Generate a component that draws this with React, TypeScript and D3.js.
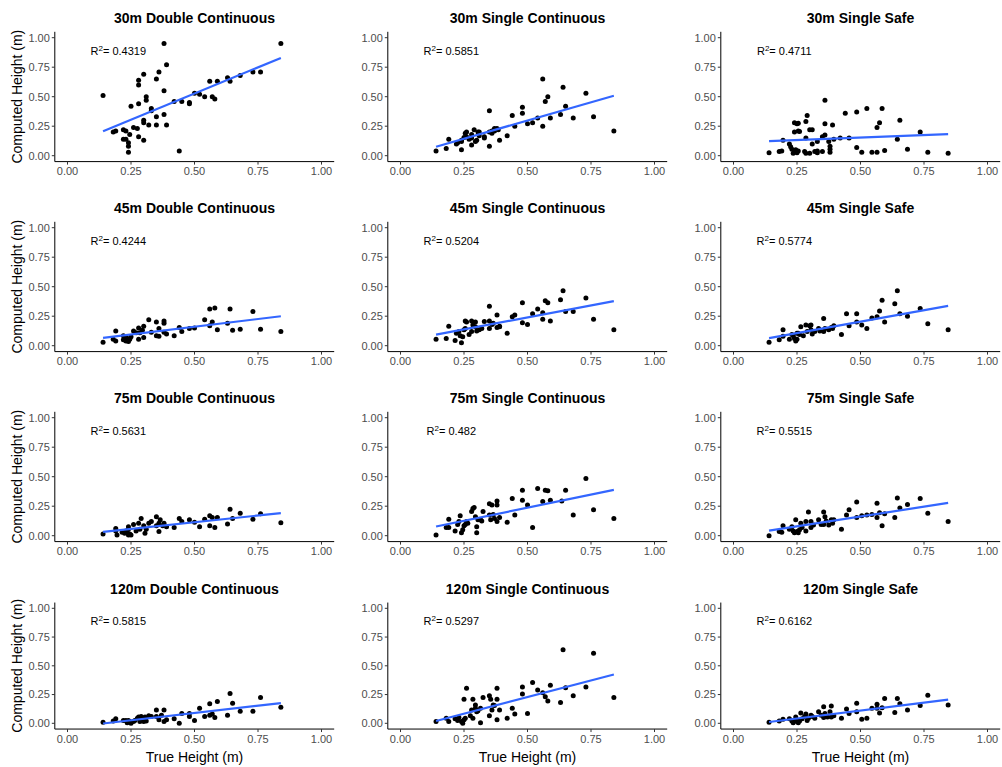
import * as d3 from "d3";

const WIDTH = 1002;
const HEIGHT = 767;
const FONT = "'Liberation Sans', Arial, Helvetica, sans-serif";

const ALTITUDES = ["30m", "45m", "75m", "120m"];
const METHODS = ["Double Continuous", "Single Continuous", "Single Safe"];
const R2_LABELS = [
  ["0.4319", "0.5851", "0.4711"],
  ["0.4244", "0.5204", "0.5774"],
  ["0.5631", "0.482", "0.5515"],
  ["0.5815", "0.5297", "0.6162"],
];
const TICKS = [0, 0.25, 0.5, 0.75, 1];

// [true height, computed height] per panel
type Pt = [number, number];

const P30_DOUBLE: Pt[] = [
  [0.14, 0.51], [0.18, 0.2], [0.19, 0.21], [0.22, 0.22], [0.22, 0.14], [0.23, 0.21], [0.23, 0.14],
  [0.24, 0.11], [0.24, 0.08], [0.24, 0.03], [0.245, 0.18], [0.25, 0.42], [0.26, 0.24], [0.275, 0.23],
  [0.28, 0.64], [0.28, 0.6], [0.28, 0.44], [0.28, 0.16], [0.3, 0.69], [0.3, 0.3], [0.3, 0.28],
  [0.3, 0.13], [0.31, 0.5], [0.31, 0.47], [0.32, 0.26], [0.33, 0.4], [0.33, 0.38], [0.35, 0.65],
  [0.35, 0.33], [0.35, 0.26], [0.36, 0.71], [0.38, 0.95], [0.38, 0.55], [0.38, 0.35], [0.39, 0.77],
  [0.39, 0.26], [0.42, 0.46], [0.44, 0.04], [0.45, 0.46], [0.48, 0.45], [0.48, 0.44], [0.5, 0.53],
  [0.52, 0.52], [0.54, 0.5], [0.56, 0.63], [0.57, 0.5], [0.58, 0.48], [0.59, 0.63], [0.63, 0.66],
  [0.64, 0.63], [0.68, 0.68], [0.73, 0.71], [0.76, 0.71], [0.84, 0.95],
];

const P30_SINGLE: Pt[] = [
  [0.14, 0.04], [0.18, 0.06], [0.19, 0.14], [0.22, 0.1], [0.225, 0.11], [0.24, 0.05], [0.24, 0.13],
  [0.24, 0.12], [0.25, 0.155], [0.255, 0.19], [0.26, 0.2], [0.26, 0.16], [0.27, 0.14], [0.28, 0.09],
  [0.28, 0.15], [0.28, 0.18], [0.29, 0.22], [0.295, 0.12], [0.3, 0.13], [0.305, 0.2], [0.31, 0.2],
  [0.31, 0.17], [0.33, 0.15], [0.33, 0.16], [0.35, 0.38], [0.35, 0.08], [0.35, 0.2], [0.36, 0.21],
  [0.36, 0.19], [0.37, 0.23], [0.37, 0.21], [0.38, 0.23], [0.385, 0.22], [0.39, 0.13], [0.42, 0.17],
  [0.44, 0.34], [0.45, 0.25], [0.48, 0.36], [0.48, 0.41], [0.5, 0.27], [0.52, 0.28], [0.54, 0.32],
  [0.56, 0.25], [0.56, 0.65], [0.57, 0.46], [0.58, 0.5], [0.59, 0.32], [0.63, 0.35], [0.64, 0.58],
  [0.65, 0.42], [0.68, 0.32], [0.73, 0.53], [0.76, 0.33], [0.84, 0.21],
];

const P30_SAFE: Pt[] = [
  [0.14, 0.025], [0.18, 0.035], [0.19, 0.04], [0.195, 0.13], [0.22, 0.1], [0.225, 0.075], [0.23, 0.055],
  [0.235, 0.02], [0.24, 0.035], [0.24, 0.28], [0.24, 0.2], [0.245, 0.05], [0.25, 0.025], [0.25, 0.27],
  [0.255, 0.04], [0.255, 0.275], [0.255, 0.21], [0.26, 0.205], [0.28, 0.035], [0.285, 0.02],
  [0.285, 0.29], [0.285, 0.15], [0.29, 0.34], [0.3, 0.22], [0.3, 0.02], [0.31, 0.22], [0.31, 0.1],
  [0.32, 0.035], [0.33, 0.04], [0.33, 0.025], [0.33, 0.12], [0.35, 0.035], [0.35, 0.16], [0.36, 0.175],
  [0.36, 0.47], [0.36, 0.27], [0.375, 0.12], [0.38, 0.08], [0.38, 0.055], [0.38, 0.03], [0.39, 0.26],
  [0.395, 0.14], [0.42, 0.15], [0.44, 0.36], [0.455, 0.15], [0.485, 0.37], [0.485, 0.07], [0.505, 0.03],
  [0.525, 0.4], [0.545, 0.03], [0.565, 0.03], [0.565, 0.24], [0.575, 0.28], [0.585, 0.4], [0.595, 0.045],
  [0.645, 0.14], [0.655, 0.3], [0.685, 0.055], [0.735, 0.2], [0.765, 0.03], [0.845, 0.02],
];

const P45_DOUBLE: Pt[] = [
  [0.14, 0.03], [0.18, 0.055], [0.19, 0.04], [0.19, 0.125], [0.22, 0.05], [0.22, 0.085], [0.23, 0.04],
  [0.23, 0.07], [0.235, 0.06], [0.24, 0.035], [0.245, 0.055], [0.25, 0.075], [0.26, 0.125], [0.27, 0.11],
  [0.28, 0.15], [0.28, 0.055], [0.285, 0.11], [0.295, 0.13], [0.3, 0.165], [0.3, 0.07], [0.32, 0.22],
  [0.33, 0.115], [0.35, 0.2], [0.35, 0.085], [0.36, 0.145], [0.36, 0.08], [0.38, 0.21], [0.38, 0.19],
  [0.38, 0.115], [0.39, 0.1], [0.42, 0.085], [0.44, 0.155], [0.45, 0.12], [0.48, 0.145], [0.5, 0.15],
  [0.54, 0.22], [0.56, 0.31], [0.56, 0.17], [0.57, 0.2], [0.58, 0.32], [0.59, 0.135], [0.63, 0.19],
  [0.64, 0.31], [0.65, 0.13], [0.68, 0.14], [0.73, 0.29], [0.76, 0.14], [0.84, 0.12],
];

const P45_SINGLE: Pt[] = [
  [0.14, 0.055], [0.18, 0.06], [0.19, 0.165], [0.215, 0.045], [0.22, 0.105], [0.23, 0.12], [0.235, 0.085],
  [0.24, 0.025], [0.245, 0.075], [0.25, 0.135], [0.255, 0.145], [0.255, 0.21], [0.26, 0.2], [0.27, 0.095],
  [0.28, 0.12], [0.28, 0.21], [0.285, 0.175], [0.295, 0.16], [0.295, 0.2], [0.3, 0.125], [0.31, 0.135],
  [0.32, 0.145], [0.33, 0.205], [0.35, 0.335], [0.35, 0.21], [0.35, 0.145], [0.36, 0.18], [0.365, 0.19],
  [0.38, 0.26], [0.38, 0.155], [0.39, 0.165], [0.39, 0.16], [0.42, 0.105], [0.44, 0.245], [0.45, 0.26],
  [0.48, 0.365], [0.48, 0.195], [0.5, 0.18], [0.52, 0.27], [0.54, 0.31], [0.56, 0.28], [0.56, 0.225],
  [0.57, 0.38], [0.58, 0.365], [0.59, 0.21], [0.63, 0.39], [0.64, 0.465], [0.65, 0.29], [0.68, 0.29],
  [0.73, 0.405], [0.76, 0.225], [0.84, 0.135],
];

const P45_SAFE: Pt[] = [
  [0.14, 0.03], [0.18, 0.05], [0.195, 0.08], [0.195, 0.135], [0.22, 0.055], [0.23, 0.095], [0.235, 0.085],
  [0.24, 0.06], [0.245, 0.04], [0.25, 0.055], [0.25, 0.105], [0.255, 0.105], [0.26, 0.095], [0.265, 0.16],
  [0.275, 0.085], [0.285, 0.175], [0.29, 0.12], [0.3, 0.17], [0.305, 0.135], [0.305, 0.175], [0.31, 0.1],
  [0.32, 0.12], [0.335, 0.145], [0.34, 0.125], [0.355, 0.23], [0.355, 0.12], [0.36, 0.145], [0.375, 0.135],
  [0.385, 0.155], [0.39, 0.145], [0.395, 0.17], [0.425, 0.095], [0.445, 0.27], [0.455, 0.17], [0.485, 0.2],
  [0.485, 0.27], [0.505, 0.175], [0.525, 0.145], [0.545, 0.235], [0.565, 0.245], [0.575, 0.295],
  [0.585, 0.385], [0.595, 0.2], [0.635, 0.355], [0.645, 0.465], [0.655, 0.27], [0.685, 0.25],
  [0.735, 0.315], [0.765, 0.185], [0.845, 0.135],
];

const P75_DOUBLE: Pt[] = [
  [0.14, 0.015], [0.19, 0.04], [0.19, 0.06], [0.195, 0.005], [0.215, 0.03], [0.225, 0.02], [0.23, 0.04],
  [0.235, 0.03], [0.24, 0.055], [0.24, 0.005], [0.245, 0.015], [0.25, 0.005], [0.24, 0.075], [0.26, 0.095],
  [0.27, 0.04], [0.28, 0.105], [0.285, 0.055], [0.29, 0.145], [0.3, 0.085], [0.305, 0.02], [0.31, 0.055],
  [0.32, 0.105], [0.33, 0.12], [0.35, 0.16], [0.35, 0.085], [0.36, 0.105], [0.36, 0.035], [0.365, 0.135],
  [0.375, 0.085], [0.38, 0.105], [0.39, 0.075], [0.42, 0.07], [0.44, 0.145], [0.45, 0.12], [0.48, 0.135],
  [0.5, 0.115], [0.52, 0.075], [0.54, 0.14], [0.56, 0.17], [0.56, 0.085], [0.57, 0.155], [0.58, 0.07],
  [0.59, 0.155], [0.63, 0.1], [0.64, 0.225], [0.65, 0.145], [0.68, 0.19], [0.73, 0.14], [0.76, 0.185],
  [0.84, 0.11],
];

const P75_SINGLE: Pt[] = [
  [0.14, 0.005], [0.18, 0.07], [0.19, 0.07], [0.19, 0.14], [0.215, 0.04], [0.225, 0.095], [0.23, 0.12],
  [0.235, 0.17], [0.24, 0.025], [0.245, 0.05], [0.25, 0.085], [0.255, 0.095], [0.26, 0.12], [0.265, 0.105],
  [0.28, 0.205], [0.285, 0.23], [0.29, 0.24], [0.295, 0.16], [0.3, 0.075], [0.3, 0.025], [0.305, 0.135],
  [0.315, 0.135], [0.32, 0.125], [0.325, 0.205], [0.35, 0.27], [0.36, 0.26], [0.35, 0.175], [0.355, 0.135],
  [0.365, 0.18], [0.37, 0.145], [0.38, 0.295], [0.38, 0.26], [0.38, 0.12], [0.39, 0.155], [0.42, 0.115],
  [0.44, 0.315], [0.45, 0.175], [0.48, 0.385], [0.48, 0.3], [0.5, 0.26], [0.52, 0.07], [0.54, 0.4],
  [0.56, 0.29], [0.57, 0.385], [0.58, 0.38], [0.59, 0.3], [0.635, 0.295], [0.65, 0.385], [0.68, 0.175],
  [0.73, 0.485], [0.76, 0.22], [0.84, 0.145],
];

const P75_SAFE: Pt[] = [
  [0.14, 0.0], [0.18, 0.035], [0.19, 0.03], [0.195, 0.085], [0.22, 0.055], [0.23, 0.075], [0.235, 0.04],
  [0.24, 0.025], [0.245, 0.135], [0.25, 0.035], [0.255, 0.025], [0.26, 0.05], [0.265, 0.105], [0.27, 0.07],
  [0.285, 0.12], [0.285, 0.04], [0.295, 0.2], [0.305, 0.12], [0.305, 0.07], [0.315, 0.09], [0.335, 0.135],
  [0.345, 0.095], [0.355, 0.2], [0.355, 0.095], [0.36, 0.16], [0.365, 0.125], [0.375, 0.09], [0.385, 0.135],
  [0.39, 0.105], [0.395, 0.135], [0.425, 0.055], [0.445, 0.175], [0.455, 0.22], [0.485, 0.285],
  [0.485, 0.155], [0.505, 0.17], [0.525, 0.175], [0.545, 0.18], [0.565, 0.275], [0.565, 0.155],
  [0.575, 0.195], [0.585, 0.085], [0.595, 0.185], [0.635, 0.155], [0.645, 0.32], [0.655, 0.235],
  [0.685, 0.265], [0.735, 0.315], [0.765, 0.19], [0.845, 0.12],
];

const P120_DOUBLE: Pt[] = [
  [0.14, 0.01], [0.18, 0.02], [0.19, 0.04], [0.22, 0.025], [0.23, 0.025], [0.235, 0.005], [0.24, 0.025],
  [0.245, 0.015], [0.25, 0.0], [0.26, 0.015], [0.265, 0.025], [0.275, 0.045], [0.28, 0.055], [0.285, 0.015],
  [0.29, 0.06], [0.3, 0.015], [0.305, 0.055], [0.31, 0.02], [0.32, 0.065], [0.33, 0.06], [0.35, 0.115],
  [0.35, 0.06], [0.36, 0.03], [0.37, 0.07], [0.38, 0.115], [0.38, 0.015], [0.39, 0.03], [0.42, 0.04],
  [0.44, 0.0], [0.45, 0.085], [0.48, 0.085], [0.48, 0.06], [0.5, 0.025], [0.52, 0.13], [0.54, 0.06],
  [0.56, 0.17], [0.56, 0.07], [0.57, 0.08], [0.58, 0.05], [0.59, 0.19], [0.63, 0.07], [0.64, 0.26],
  [0.65, 0.175], [0.68, 0.105], [0.73, 0.105], [0.76, 0.225], [0.84, 0.14],
];

const P120_SINGLE: Pt[] = [
  [0.14, 0.015], [0.18, 0.045], [0.19, 0.015], [0.215, 0.04], [0.225, 0.025], [0.23, 0.05], [0.24, 0.015],
  [0.245, 0.0], [0.25, 0.03], [0.25, 0.21], [0.255, 0.045], [0.26, 0.305], [0.275, 0.065], [0.28, 0.115],
  [0.285, 0.045], [0.285, 0.21], [0.295, 0.16], [0.295, 0.13], [0.3, 0.1], [0.305, 0.11], [0.315, 0.005],
  [0.315, 0.13], [0.325, 0.225], [0.35, 0.24], [0.35, 0.065], [0.355, 0.21], [0.36, 0.115], [0.365, 0.16],
  [0.37, 0.155], [0.38, 0.305], [0.38, 0.21], [0.38, 0.03], [0.39, 0.115], [0.42, 0.045], [0.44, 0.13],
  [0.45, 0.08], [0.48, 0.315], [0.48, 0.255], [0.5, 0.085], [0.52, 0.355], [0.54, 0.29], [0.56, 0.265],
  [0.57, 0.23], [0.58, 0.195], [0.59, 0.33], [0.63, 0.18], [0.64, 0.64], [0.65, 0.31], [0.68, 0.24],
  [0.73, 0.315], [0.76, 0.61], [0.84, 0.225],
];

const P120_SAFE: Pt[] = [
  [0.14, 0.01], [0.18, 0.02], [0.195, 0.035], [0.22, 0.04], [0.23, 0.02], [0.235, 0.005], [0.24, 0.025],
  [0.245, 0.055], [0.25, 0.015], [0.255, 0.005], [0.26, 0.02], [0.265, 0.09], [0.27, 0.04], [0.28, 0.06],
  [0.285, 0.08], [0.29, 0.025], [0.295, 0.045], [0.305, 0.07], [0.31, 0.06], [0.32, 0.045], [0.335, 0.1],
  [0.345, 0.07], [0.355, 0.145], [0.355, 0.05], [0.36, 0.085], [0.37, 0.055], [0.38, 0.1], [0.385, 0.15],
  [0.385, 0.055], [0.395, 0.065], [0.425, 0.045], [0.445, 0.125], [0.455, 0.085], [0.485, 0.175],
  [0.485, 0.1], [0.505, 0.035], [0.525, 0.045], [0.545, 0.13], [0.565, 0.165], [0.565, 0.13],
  [0.575, 0.09], [0.585, 0.135], [0.595, 0.215], [0.635, 0.095], [0.645, 0.215], [0.655, 0.17],
  [0.685, 0.115], [0.735, 0.155], [0.765, 0.245], [0.845, 0.16],
];

const PANEL_DATA: Pt[][][] = [
  [P30_DOUBLE, P30_SINGLE, P30_SAFE],
  [P45_DOUBLE, P45_SINGLE, P45_SAFE],
  [P75_DOUBLE, P75_SINGLE, P75_SAFE],
  [P120_DOUBLE, P120_SINGLE, P120_SAFE],
];

// layout (pixel positions of 0 and 1 on each axis)
const COL_X0 = [67.5, 400.5, 733.5];
const UNIT_W = 254;
const ROW_Y0 = [155.7, 345.7, 535.7, 723.3];
const ROW_UNIT_H = [118, 118, 118, 115];

function linearFit(pts: Pt[]) {
  const mx = d3.mean(pts, (d) => d[0]) as number;
  const my = d3.mean(pts, (d) => d[1]) as number;
  let sxy = 0;
  let sxx = 0;
  pts.forEach(([x, y]) => {
    sxy += (x - mx) * (y - my);
    sxx += (x - mx) * (x - mx);
  });
  const slope = sxy / sxx;
  return { slope, intercept: my - slope * mx };
}

function Panel({ row, col }: { row: number; col: number }) {
  const pts = PANEL_DATA[row][col];
  const x = d3
    .scaleLinear()
    .domain([-0.05, 1.05])
    .range([COL_X0[col] - 0.05 * UNIT_W, COL_X0[col] + 1.05 * UNIT_W]);
  const h = ROW_UNIT_H[row];
  const y = d3
    .scaleLinear()
    .domain([-0.05, 1.05])
    .range([ROW_Y0[row] + 0.05 * h, ROW_Y0[row] - 1.05 * h]);

  const [xMin, xMax] = d3.extent(pts, (d) => d[0]) as [number, number];
  const fit = linearFit(pts);
  const fitLine = d3
    .line<number>()
    .x((d) => x(d))
    .y((d) => y(fit.intercept + fit.slope * d));

  const left = x(-0.05);
  const right = x(1.05);
  const bottom = y(-0.05);
  const top = y(1.05);
  const mid = (left + right) / 2;

  return (
    <g>
      <text
        x={mid}
        y={top - 9}
        textAnchor="middle"
        fontSize={14}
        fontWeight="bold"
        fill="#000"
      >
        {ALTITUDES[row]} {METHODS[col]}
      </text>

      {pts.map((d, i) => (
        <circle key={i} cx={x(d[0])} cy={y(d[1])} r={2.5} fill="#000" />
      ))}

      <path
        d={fitLine([xMin, xMax]) || ""}
        fill="none"
        stroke="#3366FF"
        strokeWidth={2.2}
      />

      <text x={x(0.2)} y={y(0.885)} dy="0.35em" textAnchor="middle" fontSize={11} fill="#000">
        R<tspan dy="-4" fontSize={8}>2</tspan>
        <tspan dy="4">= {R2_LABELS[row][col]}</tspan>
      </text>

      {/* axes */}
      <line x1={left} x2={right} y1={bottom} y2={bottom} stroke="#000" strokeWidth={1} />
      <line x1={left} x2={left} y1={bottom} y2={top} stroke="#000" strokeWidth={1} />
      {TICKS.map((t) => (
        <g key={`x${t}`}>
          <line x1={x(t)} x2={x(t)} y1={bottom} y2={bottom + 3} stroke="#333" />
          <text x={x(t)} y={bottom + 13.5} textAnchor="middle" fontSize={11} fill="#4d4d4d">
            {d3.format(".2f")(t)}
          </text>
        </g>
      ))}
      {TICKS.map((t) => (
        <g key={`y${t}`}>
          <line x1={left - 3} x2={left} y1={y(t)} y2={y(t)} stroke="#333" />
          <text x={left - 5} y={y(t)} dy="0.35em" textAnchor="end" fontSize={11} fill="#4d4d4d">
            {d3.format(".2f")(t)}
          </text>
        </g>
      ))}

      {col === 0 && (
        <text
          transform={`translate(22,${(top + bottom) / 2}) rotate(-90)`}
          textAnchor="middle"
          fontSize={14}
          fill="#000"
        >
          Computed Height (m)
        </text>
      )}
      {row === 3 && (
        <text x={mid} y={762} textAnchor="middle" fontSize={14} fill="#000">
          True Height (m)
        </text>
      )}
    </g>
  );
}

export default function App() {
  return (
    <svg
      width={WIDTH}
      height={HEIGHT}
      style={{ position: "absolute", left: 0, top: 0, background: "#fff" }}
      fontFamily={FONT}
    >
      <rect width={WIDTH} height={HEIGHT} fill="#fff" />
      {ALTITUDES.map((_, r) =>
        METHODS.map((_, c) => <Panel key={`${r}-${c}`} row={r} col={c} />)
      )}
    </svg>
  );
}
